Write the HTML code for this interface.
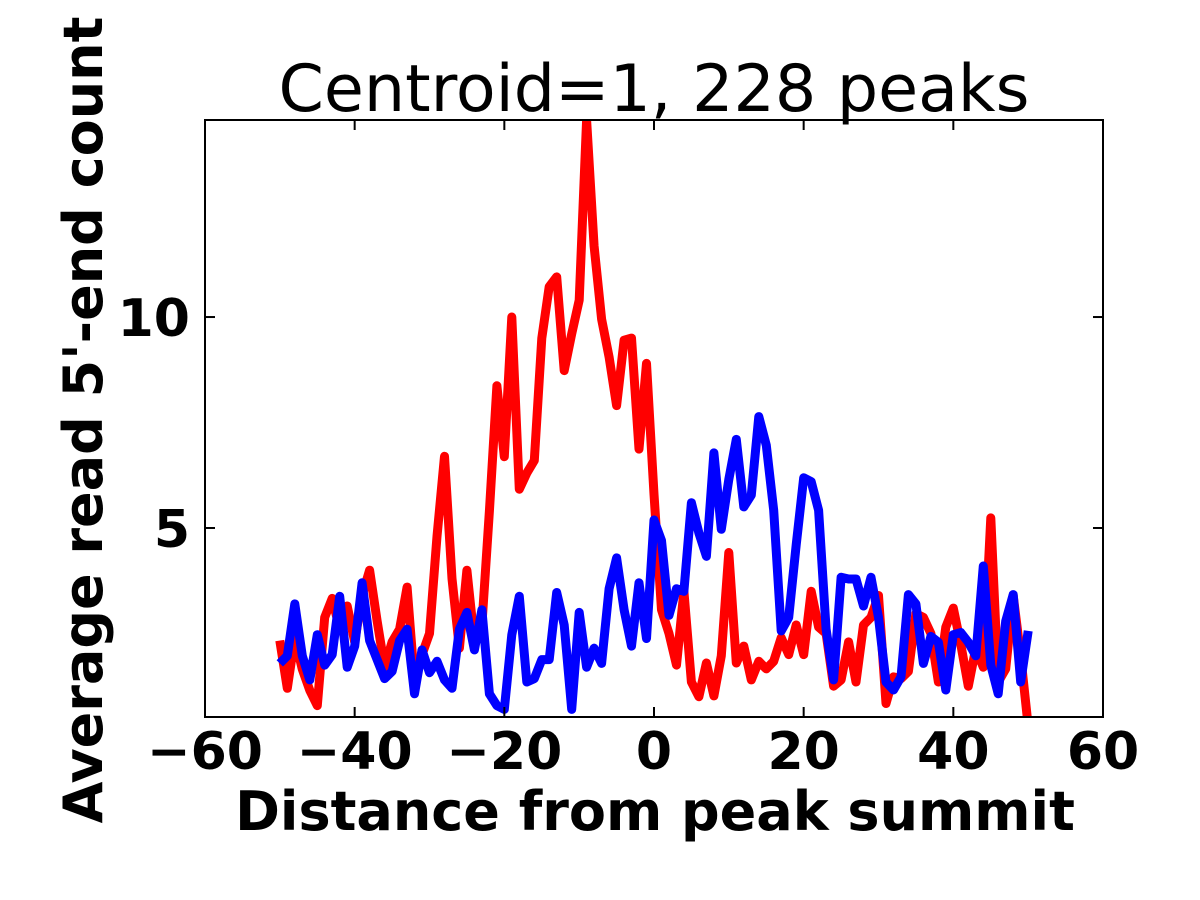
<!DOCTYPE html>
<html><head><meta charset="utf-8"><style>body{margin:0;background:#fff}svg{display:block}</style></head>
<body>
<svg id="chart" width="1200" height="900" xmlns="http://www.w3.org/2000/svg">
<defs><clipPath id="clip"><rect x="205" y="120" width="898" height="597"/></clipPath></defs>
<rect x="0" y="0" width="1200" height="900" fill="#fff"/>
<text x="654" y="111" text-anchor="middle" font-family="DejaVu Sans, sans-serif" font-size="65">Centroid=1, 228 peaks</text>
<g id="lines" clip-path="url(#clip)"></g>
<rect x="205" y="120" width="898" height="597" fill="none" stroke="#000" stroke-width="2"/>
<g id="ticks"></g>
<text x="655" y="830" text-anchor="middle" font-family="DejaVu Sans, sans-serif" font-weight="bold" font-size="54">Distance from peak summit</text>
<text transform="translate(102,420) rotate(-90)" text-anchor="middle" font-family="DejaVu Sans, sans-serif" font-weight="bold" font-size="54">Average read 5'-end count</text>
</svg>
<script>
const xStart = -50;
const redValues = [2.33,1.2,2.4,1.65,1.15,0.79,2.88,3.33,2.6,3.15,2.3,3.4,4.0,2.8,1.7,2.3,2.6,3.6,1.35,2.0,2.5,4.8,6.7,3.8,2.15,4.0,2.3,2.7,5.4,8.37,6.69,10.0,5.92,6.3,6.6,9.5,10.72,10.95,8.73,9.6,10.4,14.67,11.68,9.95,9.05,7.9,9.45,9.5,6.87,8.9,5.8,3.06,2.5,1.75,3.5,1.35,1.0,1.8,1.02,1.97,4.42,1.8,2.2,1.4,1.84,1.66,1.84,2.4,2.0,2.7,2.0,3.5,2.65,2.5,1.25,1.4,2.3,1.35,2.7,2.88,3.4,0.84,1.47,1.43,1.6,2.97,2.88,2.5,1.35,2.65,3.1,2.24,1.25,2.15,1.7,5.24,1.35,1.66,3.4,1.97,0.3];
const blueValues = [1.79,1.97,3.2,1.97,1.4,2.47,1.75,2.0,3.38,1.7,2.2,3.7,2.33,1.88,1.43,1.6,2.33,2.6,1.07,2.11,1.57,1.84,1.4,1.2,2.6,3.0,2.11,3.06,1.07,0.79,0.7,2.47,3.38,1.35,1.43,1.88,1.88,3.47,2.7,0.7,3.0,1.7,2.15,1.79,3.56,4.29,3.06,2.2,3.7,2.38,5.19,4.7,2.93,3.56,3.5,5.6,4.88,4.33,6.78,4.97,6.15,7.1,5.5,5.78,7.64,6.96,5.42,2.56,2.88,4.6,6.19,6.1,5.42,2.6,1.4,3.83,3.79,3.79,3.15,3.83,2.88,1.35,1.16,1.47,3.42,3.2,1.79,2.43,2.29,1.16,2.47,2.52,2.29,1.97,4.1,1.75,1.07,2.79,3.42,1.35,2.56];
const xTicks = [-60,-40,-20,0,20,40,60];
const xTickLabels = ["\u221260","\u221240","\u221220","0","20","40","60"];
const yTicks = [5,10];
const yTickLabels = ["5","10"];

const NS = "http://www.w3.org/2000/svg";
const xMin=-60,xMax=60,yMin=0.52,yMax=14.67;
const L=205,R=1103,T=120,B=717;
function sx(v){return L+(v-xMin)/(xMax-xMin)*(R-L);}
function sy(v){return B-(v-yMin)/(yMax-yMin)*(B-T);}

const lines=document.getElementById('lines');
function drawSeries(vals,color,name){
  const pts=vals.map((v,i)=>sx(xStart+i).toFixed(1)+','+sy(v).toFixed(1)).join(' ');
  const pl=document.createElementNS(NS,'polyline');
  pl.setAttribute('points',pts);
  pl.setAttribute('fill','none');
  pl.setAttribute('stroke',color);
  pl.setAttribute('stroke-width','9');
  pl.setAttribute('stroke-linejoin','round');
  
  
  lines.appendChild(pl);
}
drawSeries(redValues,'#ff0000','red-series-line');
drawSeries(blueValues,'#0000ff','blue-series-line');

const tg=document.getElementById('ticks');
function mk(tag,attrs){const e=document.createElementNS(NS,tag);for(const k in attrs)e.setAttribute(k,attrs[k]);tg.appendChild(e);return e;}
xTicks.forEach((v,i)=>{
  const x=sx(v);
  mk('line',{x1:x,y1:B,x2:x,y2:B-10,stroke:'#000','stroke-width':2});
  mk('line',{x1:x,y1:T,x2:x,y2:T+10,stroke:'#000','stroke-width':2});
  const t=mk('text',{x:x,y:769,'text-anchor':'middle','font-family':'DejaVu Sans, sans-serif','font-weight':'bold','font-size':52});
  t.textContent=xTickLabels[i];
  
  
});
yTicks.forEach((v,i)=>{
  const y=sy(v);
  mk('line',{x1:L,y1:y,x2:L+10,y2:y,stroke:'#000','stroke-width':2});
  mk('line',{x1:R,y1:y,x2:R-10,y2:y,stroke:'#000','stroke-width':2});
  const t=mk('text',{x:190,y:y+19,'text-anchor':'end','font-family':'DejaVu Sans, sans-serif','font-weight':'bold','font-size':52});
  t.textContent=yTickLabels[i];
  
  
});
</script>
</body></html>
